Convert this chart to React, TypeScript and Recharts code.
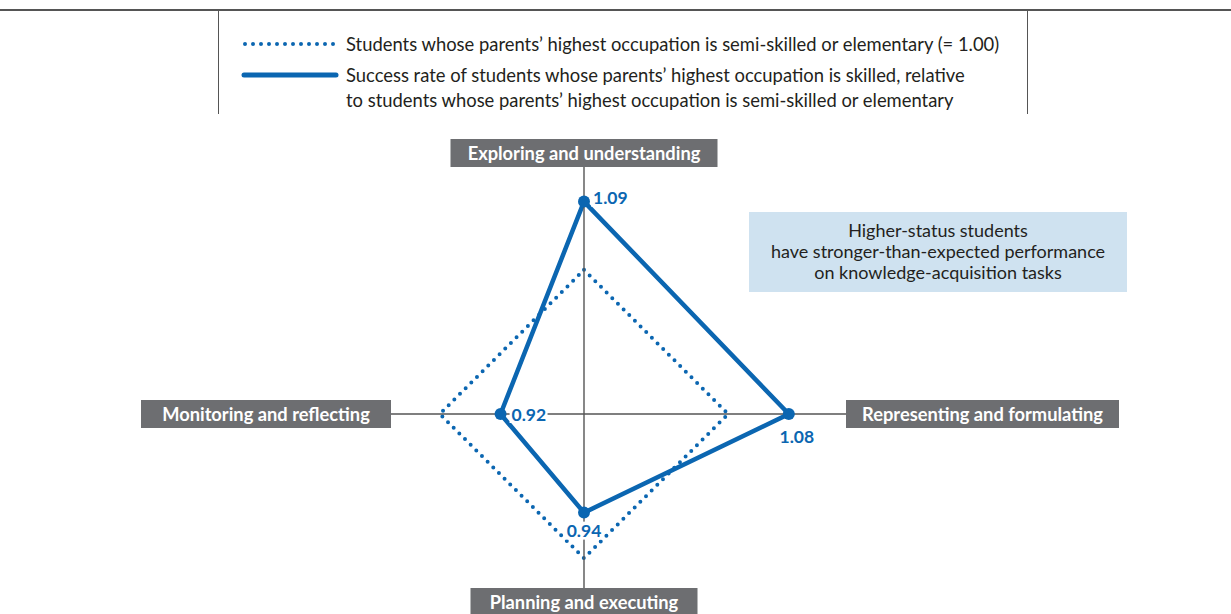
import { RadarChart, Radar, PolarAngleAxis, PolarRadiusAxis } from 'recharts';

// axes go clockwise from the top
const categories = [
  'Exploring and understanding',
  'Representing and formulating',
  'Planning and executing',
  'Monitoring and reflecting',
];
const baselineValues = [1.0, 1.0, 1.0, 1.0];
const skilledValues = [1.09, 1.08, 0.94, 0.92];
const valueLabels = ['1.09', '1.08', '0.94', '0.92'];
const radiusDomain = [0.81, 1.1];

const seriesNames = [
  'Students whose parents’ highest occupation is semi-skilled or elementary (= 1.00)',
  'Success rate of students whose parents’ highest occupation is skilled, relative\nto students whose parents’ highest occupation is semi-skilled or elementary',
];
const noteLines = [
  'Higher-status students',
  'have stronger-than-expected performance',
  'on knowledge-acquisition tasks',
];

const data = categories.map((c, i) => ({
  axis: c,
  baseline: baselineValues[i],
  skilled: skilledValues[i],
}));

const BLUE = '#0b66b1';
const FONT = 'Lato, "Open Sans", sans-serif';

// distance from centre to the label box, and the box size
const AXIS_BOX = [
  { gap: 247, w: 267, h: 28 },
  { gap: 262, w: 273, h: 28 },
  { gap: 174, w: 227, h: 28 },
  { gap: 193, w: 250, h: 28 },
];

const AxisTick = (props: any) => {
  const { x, y, payload, index } = props;
  const cx = props.cx ?? 584;
  const cy = props.cy ?? 414;
  const dx = x - cx;
  const dy = y - cy;
  const len = Math.hypot(dx, dy) || 1;
  const ux = dx / len;
  const uy = dy / len;
  const box = AXIS_BOX[index] ?? AXIS_BOX[0];
  const ext = Math.abs(uy) > Math.abs(ux) ? box.h : box.w;
  const bx = cx + ux * (box.gap + ext / 2);
  const by = cy + uy * (box.gap + ext / 2);
  return (
    <g>
      <line
        x1={cx}
        y1={cy}
        x2={cx + ux * box.gap}
        y2={cy + uy * box.gap}
        stroke="#555"
        strokeWidth={1.4}
      />
      <rect x={bx - box.w / 2} y={by - box.h / 2} width={box.w} height={box.h} fill="#6d6e71" />
      <text
        x={bx}
        y={by}
        textAnchor="middle"
        dominantBaseline="central"
        fill="#fff"
        fontFamily={FONT}
        fontWeight={700}
        fontSize={18.3}
      >
        {payload.value}
      </text>
    </g>
  );
};

// label placement around each solid point
const LABEL_POS = [
  { dx: 9, dy: -4, anchor: 'start' },
  { dx: 8, dy: 22, anchor: 'middle' },
  { dx: 0, dy: 18, anchor: 'middle' },
  { dx: 11, dy: 0, anchor: 'start' },
];

const SkilledDot = (props: any) => {
  const { cx, cy, index } = props;
  const p = LABEL_POS[index];
  const label = valueLabels[index];
  const w = 38;
  const tx = cx + p.dx;
  const ty = cy + p.dy;
  const left = p.anchor === 'start' ? tx - 2 : tx - w / 2;
  return (
    <g key={`sd-${index}`}>
      <circle cx={cx} cy={cy} r={6} fill={BLUE} />
      <rect x={left} y={ty - 9} width={w} height={18} fill="#fff" />
      <text
        x={tx}
        y={ty}
        textAnchor={p.anchor as any}
        dominantBaseline="central"
        fill={BLUE}
        fontFamily={FONT}
        fontWeight={700}
        fontSize={17.5}
      >
        {label}
      </text>
    </g>
  );
};

export default function App() {
  return (
    <div
      style={{
        position: 'absolute',
        left: 0,
        top: 0,
        width: 1231,
        height: 614,
        background: '#fff',
        overflow: 'hidden',
        fontFamily: FONT,
      }}
    >
      {/* frame lines around the legend */}
      <div style={{ position: 'absolute', left: 0, top: 9, width: 1231, height: 2, background: '#555' }} />
      <div style={{ position: 'absolute', left: 218, top: 10, width: 1, height: 104, background: '#555' }} />
      <div style={{ position: 'absolute', left: 1027, top: 10, width: 1, height: 104, background: '#555' }} />

      {/* legend */}
      <svg style={{ position: 'absolute', left: 0, top: 0 }} width={1231} height={120}>
        <line x1={245} y1={44} x2={337} y2={44} stroke={BLUE} strokeWidth={4} strokeDasharray="0 8" strokeLinecap="round" />
        <line x1={244} y1={75} x2={336} y2={75} stroke={BLUE} strokeWidth={5} strokeLinecap="round" />
        <text x={346} y={44} dominantBaseline="central" fontFamily={FONT} fontSize={18.4} fill="#231f20">
          {seriesNames[0]}
        </text>
        {seriesNames[1].split('\n').map((line, i) => (
          <text key={i} x={346} y={75 + i * 25} dominantBaseline="central" fontFamily={FONT} fontSize={18.4} fill="#231f20">
            {line}
          </text>
        ))}
      </svg>

      <div style={{ position: 'absolute', left: 0, top: 0 }}>
        <RadarChart
          width={1231}
          height={614}
          data={data}
          cx={584}
          cy={414}
          outerRadius={220}
          margin={{ top: 0, right: 0, bottom: 0, left: 0 }}
        >
          <PolarAngleAxis dataKey="axis" tick={<AxisTick />} tickLine={false} axisLine={false} />
          <PolarRadiusAxis domain={radiusDomain} tick={false} axisLine={false} />
          <Radar
            name={seriesNames[0]}
            dataKey="baseline"
            stroke={BLUE}
            strokeWidth={4}
            strokeDasharray="0 8"
            strokeLinecap="round"
            fill="none"
            fillOpacity={0}
            dot={{ r: 2.2, fill: BLUE, stroke: 'none' }}
            isAnimationActive={false}
          />
          <Radar
            name={seriesNames[1]}
            dataKey="skilled"
            stroke={BLUE}
            strokeWidth={4.5}
            fill="none"
            fillOpacity={0}
            dot={(p: any) => <SkilledDot {...p} />}
            isAnimationActive={false}
          />
        </RadarChart>
      </div>

      {/* annotation */}
      <div
        style={{
          position: 'absolute',
          left: 749,
          top: 212,
          width: 378,
          height: 80,
          background: '#cfe2f0',
          color: '#231f20',
          fontSize: 18,
          lineHeight: '21px',
          textAlign: 'center',
          boxSizing: 'border-box',
          paddingTop: 8,
        }}
      >
        {noteLines.map((l, i) => (
          <div key={i}>{l}</div>
        ))}
      </div>
    </div>
  );
}
